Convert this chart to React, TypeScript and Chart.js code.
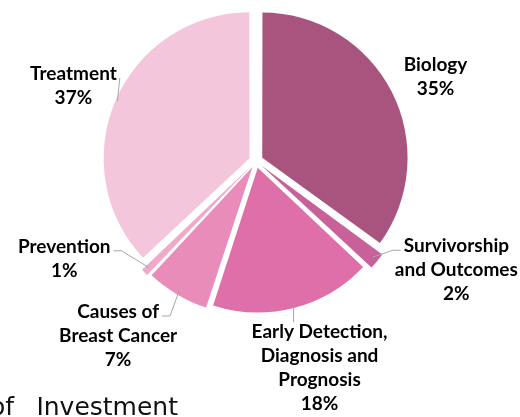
import React, { useEffect, useRef } from "react";
import { Chart, registerables } from "chart.js";
Chart.register(...registerables);

const categories = [
  "Biology",
  "Survivorship\nand Outcomes",
  "Early Detection,\nDiagnosis and\nPrognosis",
  "Causes of\nBreast Cancer",
  "Prevention",
  "Treatment",
];
const values = [35, 2, 18, 7, 1, 37];
const colors = ["#A8547E", "#C8619A", "#DE6FA8", "#E98CBA", "#EFA9CA", "#F4C6DB"];
const titleWords = ["of", "Investment"];

const OFFSET = 28;
const SHIFT = OFFSET / 4;
const LINE_H = 24;
const LABEL_FONT = "bold 19px Lato, 'Liberation Sans', sans-serif";

// label placement relative to each slice's outer mid-point
const labelLayout = [
  { dx: 45, dy: -16, leader: "none", elbow: 0 },
  { dx: 84, dy: 13, leader: "left", elbow: 8 },
  { dx: 26, dy: 61, leader: "top", elbow: 0 },
  { dx: -61, dy: 45, leader: "right", elbow: 8 },
  { dx: -85, dy: -9, leader: "right", elbow: 8 },
  { dx: -44, dy: -15, leader: "right", elbow: 0 },
];

const labelPlugin = {
  id: "outLabels",
  afterDatasetsDraw(chart: any) {
    const ctx = chart.ctx;
    const meta = chart.getDatasetMeta(0);
    ctx.save();
    ctx.font = LABEL_FONT;
    ctx.textAlign = "center";
    ctx.textBaseline = "middle";
    meta.data.forEach((arc: any, i: number) => {
      const p = arc.getProps(["x", "y", "startAngle", "endAngle", "outerRadius"], true);
      const mid = (p.startAngle + p.endAngle) / 2;
      const ax = p.x + Math.cos(mid) * (p.outerRadius + SHIFT);
      const ay = p.y + Math.sin(mid) * (p.outerRadius + SHIFT);
      const lay = labelLayout[i];
      const lines = [...categories[i].split("\n"), values[i] + "%"];
      const cx = ax + lay.dx;
      const cy = ay + lay.dy;
      const y0 = cy - ((lines.length - 1) * LINE_H) / 2;
      const w0 = ctx.measureText(lines[0]).width;
      ctx.strokeStyle = "#A6A6A6";
      ctx.lineWidth = 1;
      if (lay.leader !== "none") {
        ctx.beginPath();
        ctx.moveTo(ax, ay);
        if (lay.leader === "top") {
          ctx.lineTo(ax, y0 - 10);
        } else {
          const sgn = lay.leader === "right" ? 1 : -1;
          const ex = cx + sgn * (w0 / 2 + 3);
          const ey = y0 + 4;
          if (lay.elbow) ctx.lineTo(ex + sgn * lay.elbow, ey);
          ctx.lineTo(ex, ey);
        }
        ctx.stroke();
      }
      ctx.fillStyle = "#000";
      lines.forEach((t, k) => ctx.fillText(t, cx, y0 + k * LINE_H));
    });
    ctx.font = "25px 'DejaVu Sans', sans-serif";
    ctx.textAlign = "right";
    ctx.textBaseline = "alphabetic";
    ctx.fillStyle = "#111";
    ctx.fillText(titleWords[1], 178, 415);
    ctx.fillText(titleWords[0], 14, 415);
    ctx.restore();
  },
};

export default function App() {
  const ref = useRef<HTMLCanvasElement>(null);
  useEffect(() => {
    const chart = new Chart(ref.current as HTMLCanvasElement, {
      type: "pie",
      data: {
        labels: categories,
        datasets: [
          {
            data: values,
            backgroundColor: colors,
            borderWidth: 0,
            offset: OFFSET,
          },
        ],
      },
      options: {
        animation: false,
        responsive: false,
        layout: { padding: { left: 98, right: 106, top: 3, bottom: 98 } },
        plugins: { legend: { display: false }, tooltip: { enabled: false } },
      },
      plugins: [labelPlugin],
    });
    return () => chart.destroy();
  }, []);
  return (
    <div style={{ position: "absolute", left: 0, top: 0, width: 520, height: 417, background: "#fff" }}>
      <canvas ref={ref} width={520} height={417} />
    </div>
  );
}
